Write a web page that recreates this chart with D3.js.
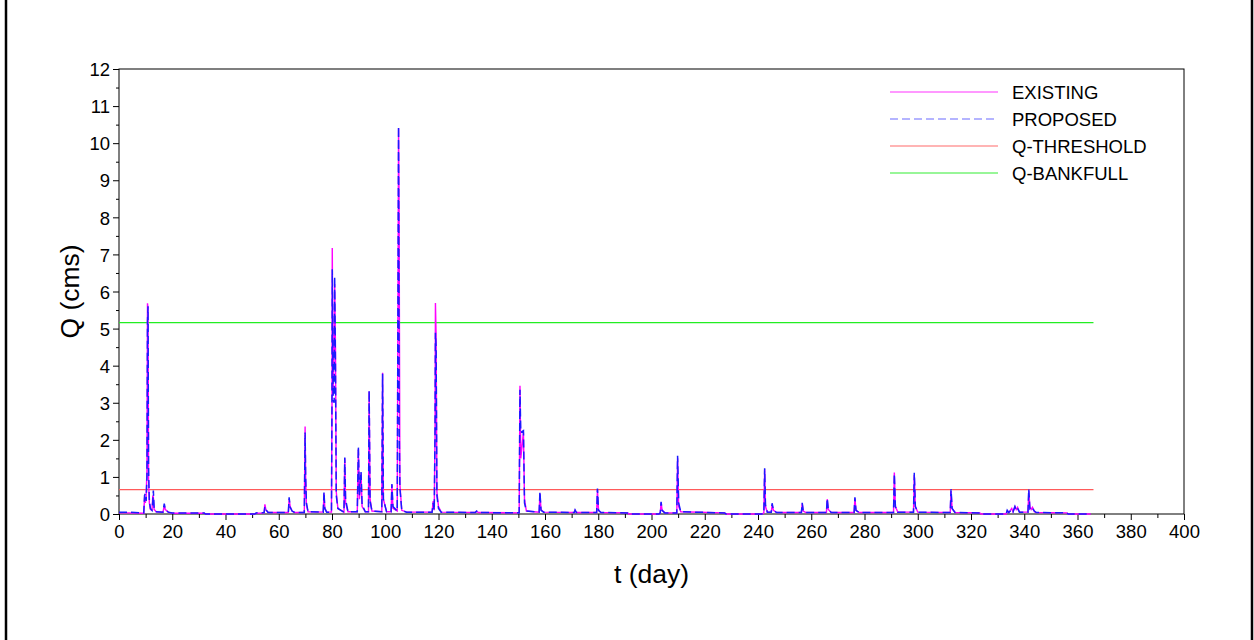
<!DOCTYPE html>
<html>
<head>
<meta charset="utf-8">
<script src="https://cdn.jsdelivr.net/npm/d3@7"></script>
<style>
  body { margin: 0; background: #fff; }
  svg { display: block; font-family: "Liberation Sans", Arial, sans-serif; }
</style>
</head>
<body>
<svg id="chart" width="1254" height="640"></svg>
<script>
// time (day), flow for the existing and proposed condition (cms)
var tDay = [
  0, 3, 9.3, 9.6, 9.9, 10.2, 10.5, 10.7, 10.9, 11.1, 11.4, 11.8, 12.4, 12.7, 12.9, 13.2, 14, 16.5, 17.0, 17.4, 18.5, 20, 32,
  32.5, 51, 51.5, 54.5, 54.8, 55.2, 56, 63.6, 63.9, 64.3, 65, 66, 69.6, 69.9, 70.1, 70.4, 71,
  76.7, 77.0, 77.3, 78, 79.8, 80.0, 80.1, 80.4, 80.8, 81.0, 81.3, 81.6, 82.2,
  84.5, 84.8, 85.1, 86, 89.5, 89.9, 90.3, 90.9, 91.3, 92.5, 93.7, 93.95, 94.3, 95,
  98.7, 99.0, 99.3, 100.5, 102.2, 102.5, 102.9, 104.5, 104.8, 105.0, 105.2, 105.5, 106.2, 108,
  117.6, 118, 118.4, 118.7, 118.85, 119.1, 119.4, 120, 121, 133.8, 134.3, 135,
  150.3, 150.6, 150.9, 151.9, 152.3, 153, 157.8, 158.1, 158.5, 159.5, 171, 171.3, 171.8,
  179.4, 179.7, 180.1, 181, 191, 191.5, 202.8, 203.3, 203.6, 204, 205, 209.5, 209.8, 210.2, 211,
  227.5, 228, 241.5, 242.2, 242.5, 242.8, 243.5, 245, 245.3, 245.8, 247,
  256.3, 256.6, 257, 258, 265.7, 266.0, 266.4, 267.5, 276.1, 276.4, 276.8, 278,
  290.9, 291.2, 291.6, 292.5, 298.4, 298.7, 299.1, 300, 312.2, 312.5, 312.9, 314,
  323.3, 323.8, 333.2, 333.6, 334.2, 335.3, 335.8, 336.5, 337, 337.5, 338.2,
  341.4, 341.7, 342.1, 342.6, 343.1, 343.8, 344.5, 356, 356.5, 365
];
var qExisting = [
  0.03, 0.03, 0.02, 0.45, 0.3, 0.5, 1.2, 5.68, 5.55, 0.9, 0.3, 0.12, 0.1, 0.5, 0.45, 0.12, 0.06, 0.05, 0.22, 0.12, 0.05, 0.02, 0.02,
  0, 0, 0.02, 0.03, 0.26, 0.1, 0.04, 0.04, 0.4, 0.2, 0.08, 0.04, 0.04, 2.36, 0.9, 0.25, 0.06,
  0.05, 0.55, 0.15, 0.05, 0.05, 3.0, 7.17, 3.2, 4.5, 6.2, 4.5, 0.6, 0.15,
  0.05, 1.5, 0.3, 0.06, 0.06, 1.75, 0.4, 1.1, 0.2, 0.06, 0.06, 3.3, 0.4, 0.08,
  0.06, 3.81, 0.4, 0.06, 0.06, 0.78, 0.15, 0.08, 6.2, 10.4, 8.2, 0.8, 0.1, 0.05,
  0.05, 0.35, 0.1, 2.2, 5.69, 4.8, 0.6, 0.2, 0.05, 0.04, 0.07, 0.04,
  0.03, 3.46, 1.5, 2.2, 0.4, 0.08, 0.05, 0.55, 0.12, 0.05, 0.04, 0.1, 0.04,
  0.04, 0.65, 0.1, 0.04, 0.03, 0, 0, 0.03, 0.3, 0.1, 0.03, 0.03, 1.5, 0.2, 0.06,
  0.03, 0, 0, 0.03, 1.2, 0.2, 0.05, 0.05, 0.25, 0.1, 0.04,
  0.04, 0.28, 0.08, 0.04, 0.04, 0.4, 0.12, 0.04, 0.04, 0.42, 0.1, 0.04,
  0.04, 1.12, 0.2, 0.05, 0.05, 1.05, 0.2, 0.05, 0.04, 0.62, 0.15, 0.04,
  0.03, 0, 0, 0.08, 0.04, 0.15, 0.06, 0.2, 0.12, 0.18, 0.05,
  0.05, 0.62, 0.2, 0.12, 0.18, 0.06, 0.04, 0.03, 0, 0
];
var qProposed = [
  0.05, 0.05, 0.03, 0.5, 0.55, 0.35, 1.0, 5.2, 5.6, 1.2, 0.35, 0.15, 0.1, 0.35, 0.63, 0.15, 0.06, 0.05, 0.28, 0.12, 0.05, 0.03, 0.03,
  0, 0, 0.03, 0.04, 0.2, 0.12, 0.04, 0.04, 0.45, 0.18, 0.08, 0.04, 0.04, 2.2, 1.0, 0.3, 0.06,
  0.05, 0.6, 0.15, 0.05, 0.05, 3.1, 6.6, 3.1, 3.0, 6.4, 4.0, 0.5, 0.15,
  0.05, 1.52, 0.4, 0.06, 0.06, 1.81, 0.5, 1.14, 0.25, 0.06, 0.06, 3.33, 0.35, 0.08,
  0.06, 3.78, 0.4, 0.06, 0.06, 0.81, 0.2, 0.08, 6.18, 10.45, 2.5, 0.7, 0.1, 0.05,
  0.05, 0.3, 0.1, 2.25, 4.89, 4.5, 0.5, 0.15, 0.05, 0.04, 0.08, 0.04,
  0.03, 3.35, 2.2, 2.25, 0.3, 0.08, 0.05, 0.6, 0.1, 0.05, 0.04, 0.11, 0.04,
  0.04, 0.69, 0.1, 0.04, 0.03, 0, 0, 0.03, 0.33, 0.1, 0.03, 0.03, 1.57, 0.3, 0.06,
  0.03, 0, 0, 0.03, 1.23, 0.25, 0.05, 0.05, 0.29, 0.1, 0.04,
  0.04, 0.3, 0.08, 0.04, 0.04, 0.42, 0.12, 0.04, 0.04, 0.45, 0.1, 0.04,
  0.04, 1.08, 0.2, 0.05, 0.05, 1.11, 0.2, 0.05, 0.04, 0.67, 0.15, 0.04,
  0.03, 0, 0, 0.1, 0.04, 0.12, 0.06, 0.2, 0.1, 0.15, 0.05,
  0.05, 0.67, 0.15, 0.2, 0.15, 0.08, 0.04, 0.03, 0, 0
];

var qThreshold = 0.66;
var qBankfull = 5.16;
var tEnd = 366;

var legendNames = ['EXISTING', 'PROPOSED', 'Q-THRESHOLD', 'Q-BANKFULL'];
var xTicks = d3.range(0, 401, 20);
var yTicks = d3.range(0, 13, 1);

var svg = d3.select('#chart');

var x = d3.scaleLinear().domain([0, 400]).range([119, 1184]);
var y = d3.scaleLinear().domain([0, 12]).range([514, 69]);

// page frame (only the sides show)
svg.append('line').attr('x1', 6).attr('x2', 6).attr('y1', 0).attr('y2', 640)
  .attr('stroke', '#000').attr('stroke-width', 2.5);
svg.append('line').attr('x1', 1252).attr('x2', 1252).attr('y1', 0).attr('y2', 640)
  .attr('stroke', '#000').attr('stroke-width', 2.5);

// plot box
svg.append('rect')
  .attr('x', x(0)).attr('y', y(12))
  .attr('width', x(400) - x(0)).attr('height', y(0) - y(12))
  .attr('fill', 'none').attr('stroke', '#000').attr('stroke-width', 1);

// minor ticks
var xAxisMinor = d3.axisBottom(x).tickValues(d3.range(10, 400, 20)).tickSize(4).tickFormat('');
var yAxisMinor = d3.axisLeft(y).tickValues(d3.range(0.5, 12, 1)).tickSize(3).tickFormat('');

var gxm = svg.append('g').attr('transform', 'translate(0,' + y(0) + ')').call(xAxisMinor);
var gym = svg.append('g').attr('transform', 'translate(' + x(0) + ',0)').call(yAxisMinor);

// major ticks
var xAxis = d3.axisBottom(x).tickValues(xTicks).tickSize(6).tickPadding(5).tickFormat(d3.format('d'));
var yAxis = d3.axisLeft(y).tickValues(yTicks).tickSize(6).tickPadding(3).tickFormat(d3.format('d'));

var gx = svg.append('g').attr('transform', 'translate(0,' + y(0) + ')').call(xAxis);
var gy = svg.append('g').attr('transform', 'translate(' + x(0) + ',0)').call(yAxis);

[gx, gy, gxm, gym].forEach(function(g){
  g.select('.domain').remove();
  g.selectAll('line').attr('stroke', '#000');
  g.selectAll('text').attr('font-size', 18.5).attr('fill', '#000')
    .attr('font-family', '"Liberation Sans", Arial, sans-serif');
});
gy.selectAll('text').attr('dy', '0.36em');

// axis titles
svg.append('text')
  .attr('x', (x(0) + x(400)) / 2).attr('y', 583)
  .attr('text-anchor', 'middle').attr('font-size', 26.5)
  .text('t (day)');
svg.append('text')
  .attr('transform', 'translate(79,' + ((y(0) + y(12)) / 2) + ') rotate(-90)')
  .attr('text-anchor', 'middle').attr('font-size', 26.5)
  .text('Q (cms)');

// reference levels
svg.append('line')
  .attr('x1', x(0)).attr('x2', x(tEnd))
  .attr('y1', y(qBankfull)).attr('y2', y(qBankfull))
  .attr('stroke', '#22ee22').attr('stroke-width', 1.2);
svg.append('line')
  .attr('x1', x(0)).attr('x2', x(tEnd))
  .attr('y1', y(qThreshold)).attr('y2', y(qThreshold))
  .attr('stroke', '#ff5a5a').attr('stroke-width', 1.2);

// hydrographs
var lineE = d3.line()
  .x(function(d, i){ return x(tDay[i]); })
  .y(function(d){ return y(d); });

svg.append('path')
  .datum(qExisting)
  .attr('d', lineE)
  .attr('fill', 'none')
  .attr('stroke', '#ff00ff')
  .attr('stroke-width', 1.4);

svg.append('path')
  .datum(qProposed)
  .attr('d', lineE)
  .attr('fill', 'none')
  .attr('stroke', '#1a1aff')
  .attr('stroke-width', 1.5)
  .attr('stroke-dasharray', '8,4');

// legend
var legendStyles = [
  { color: '#ff33ff', dash: null },
  { color: '#6a6aff', dash: '8,4' },
  { color: '#ff6a6a', dash: null },
  { color: '#33ee33', dash: null }
];
var legendY = [92, 119, 146, 173];

legendNames.forEach(function(name, i){
  svg.append('line')
    .attr('x1', 890).attr('x2', 998)
    .attr('y1', legendY[i]).attr('y2', legendY[i])
    .attr('stroke', legendStyles[i].color)
    .attr('stroke-width', 1.2)
    .attr('stroke-dasharray', legendStyles[i].dash);
  svg.append('text')
    .attr('x', 1012).attr('y', legendY[i])
    .attr('dy', '0.36em')
    .attr('font-size', 18.5)
    .text(name);
});
</script>
</body>
</html>
